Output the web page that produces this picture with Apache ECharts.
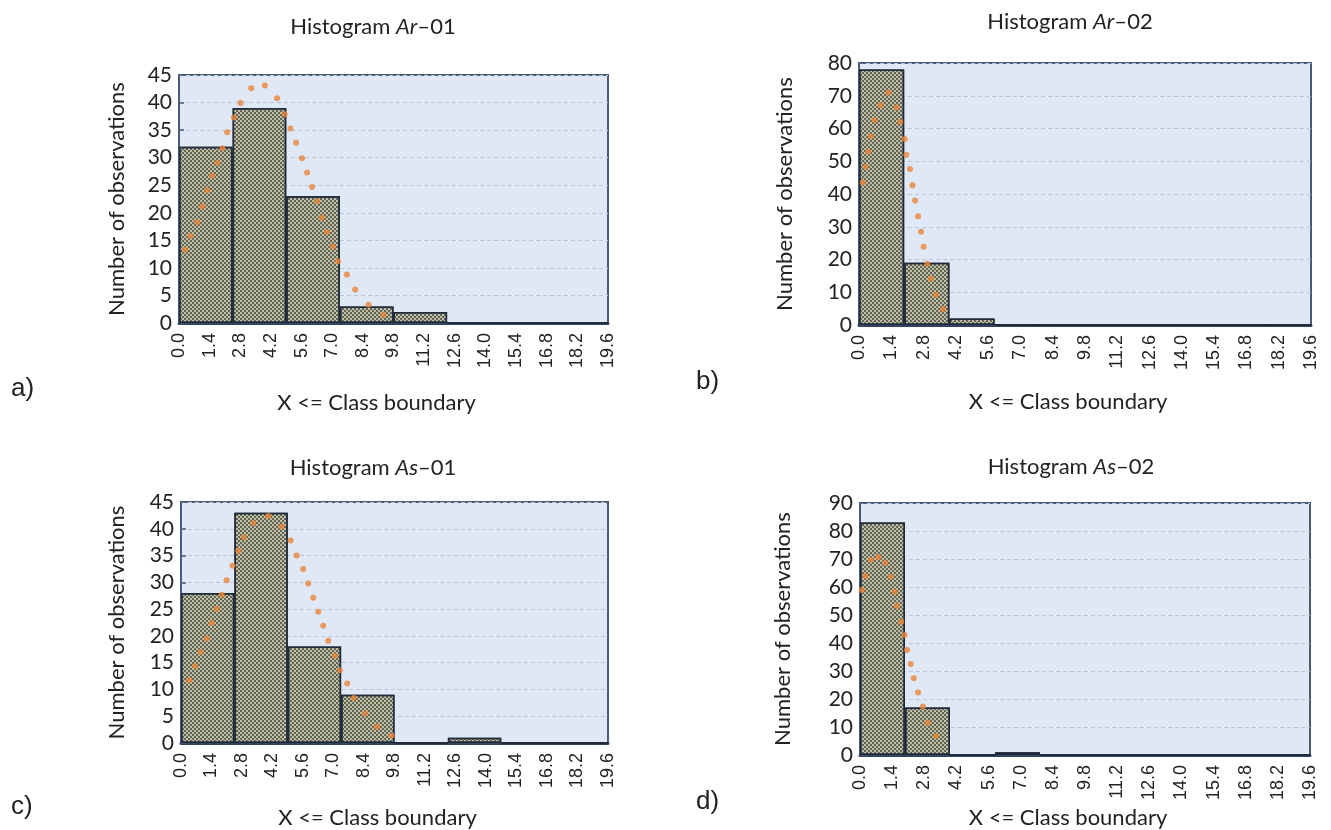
<!DOCTYPE html>
<html><head><meta charset="utf-8">
<script src="https://cdn.jsdelivr.net/npm/echarts@6/dist/echarts.min.js"></script>
<style>html,body{margin:0;padding:0;background:#fff}#c{width:1331px;height:830px}</style>
</head><body><div id="c"></div>
<script>
// ---- data ----
const xTickLabels = ['0.0','1.4','2.8','4.2','5.6','7.0','8.4','9.8','11.2','12.6','14.0','15.4','16.8','18.2','19.6'];
const edges8  = [0, 2.45, 4.9, 7.35, 9.8, 12.25, 14.7, 17.15, 19.6];
const edges10 = [0, 1.96, 3.92, 5.88, 7.84, 9.8, 11.76, 13.72, 15.68, 17.64, 19.6];
const countsA = [32, 39, 23, 3, 2, 0, 0, 0];
const countsB = [78, 19, 2, 0, 0, 0, 0, 0, 0, 0];
const countsC = [28, 43, 18, 9, 0, 1, 0, 0];
const countsD = [83, 17, 0, 1, 0, 0, 0, 0, 0, 0];
const curveA = [[0.27,13.3],[0.53,15.8],[0.84,18.3],[1.06,21.2],[1.29,24.1],[1.52,26.7],[1.75,29.1],[1.98,31.7],[2.20,34.6],[2.51,37.3],[2.81,39.9],[3.30,42.6],[3.92,43.1],[4.48,40.8],[4.83,37.9],[5.09,35.3],[5.35,32.7],[5.62,29.9],[5.85,27.3],[6.08,24.7],[6.31,22.1],[6.53,19.1],[6.76,16.5],[7.03,13.9],[7.26,11.2],[7.67,8.8],[8.05,6.1],[8.66,3.3],[9.34,1.5]];
const curveB = [[0.16,43.5],[0.29,48.3],[0.40,52.9],[0.51,57.6],[0.67,62.5],[0.93,67.1],[1.28,71.0],[1.63,66.4],[1.79,62.0],[1.98,56.8],[2.05,52.0],[2.21,47.6],[2.32,42.7],[2.43,38.0],[2.56,33.2],[2.69,28.5],[2.80,23.9],[2.96,18.7],[3.12,14.1],[3.33,9.2],[3.65,4.8]];
const curveC = [[0.38,11.7],[0.64,14.4],[0.90,17.0],[1.18,19.5],[1.41,22.4],[1.64,25.0],[1.87,27.7],[2.09,30.4],[2.37,33.1],[2.63,35.9],[2.89,38.4],[3.32,41.1],[4.01,42.4],[4.62,40.4],[5.03,37.8],[5.31,35.0],[5.61,32.5],[5.84,29.8],[6.07,27.1],[6.30,24.5],[6.53,21.9],[6.76,19.1],[7.06,16.3],[7.29,13.6],[7.63,11.1],[7.93,8.4],[8.44,5.5],[9.00,3.1],[9.66,1.4]];
const curveD = [[0.08,58.9],[0.24,63.9],[0.48,69.6],[0.80,70.6],[1.10,68.7],[1.34,63.7],[1.50,58.3],[1.61,53.2],[1.80,47.6],[1.94,42.9],[2.05,37.5],[2.21,32.5],[2.34,27.4],[2.53,22.3],[2.74,17.3],[2.95,11.5],[3.31,6.8]];
const titles = [['Ar','01'],['Ar','02'],['As','01'],['As','02']];
const yMax = [45, 80, 45, 90];
const yStep = [5, 10, 5, 10];
const panelTags = ['a)','b)','c)','d)'];

// ---- layout ----
const grids = [
  {left:179, top:75,  width:429, height:248},
  {left:859, top:63,  width:452, height:262},
  {left:181, top:502, width:427, height:243},
  {left:860, top:503, width:450, height:252}
];
const yNameGap = [51, 63, 53, 66];
const xNameGap = [69, 66, 64, 52];
const titlePos = [[368,11],[1065,6],[368,452],[1066,451]];
const tagPos = [[11,376],[696,369],[11,794],[696,789]];
const panels = [
  {edges: edges8,  counts: countsA, curve: curveA},
  {edges: edges10, counts: countsB, curve: curveB},
  {edges: edges8,  counts: countsC, curve: curveC},
  {edges: edges10, counts: countsD, curve: curveD}
];

const txt = 'Lato';
const chart = echarts.init(document.getElementById('c'), null, {renderer:'canvas'});
const option = {
  animation:false,
  backgroundColor:'#ffffff',
  title: titles.map((t,i)=>({
    text:'Histogram {i|'+t[0]+'}–'+t[1],
    left:titlePos[i][0], top:titlePos[i][1], textAlign:'center',
    textStyle:{fontFamily:txt, fontSize:22, fontWeight:'normal', color:'#222',
      rich:{i:{fontFamily:txt, fontSize:22, fontStyle:'italic', color:'#222'}}}
  })),
  grid: grids.map(g=>Object.assign({show:true, backgroundColor:'#e0e8f6', borderColor:'#4a5a78', borderWidth:2, containLabel:false}, g)),
  xAxis: [],
  yAxis: [],
  series: [],
  graphic: panelTags.map((t,i)=>({type:'text', left:tagPos[i][0], top:tagPos[i][1],
    style:{text:t, font:'26px "Liberation Sans"', fill:'#222'}}))
};
panels.forEach((p,i)=>{
  option.xAxis.push({
    type:'value', gridIndex:i, min:0, max:19.6, interval:1.4,
    name:'X <= Class boundary', nameLocation:'middle', nameGap:xNameGap[i],
    nameTextStyle:{fontFamily:txt, fontSize:22, color:'#222', padding:[0,34,0,0]},
    axisLine:{show:true, lineStyle:{color:'#34445f', width:3}},
    axisTick:{show:false}, splitLine:{show:false},
    axisLabel:{rotate:90, fontFamily:'Liberation Sans', fontSize:18, color:'#222', margin:10,
      formatter:(v)=>{const k=Math.round(v/1.4); return xTickLabels[k]!==undefined?xTickLabels[k]:'';}}
  });
  const cats = p.counts.map((_,k)=>p.edges[k].toFixed(2)+'–'+p.edges[k+1].toFixed(2));
  option.xAxis.push({type:'category', gridIndex:i, data:cats, show:false, boundaryGap:true});
  option.yAxis.push({
    type:'value', gridIndex:i, min:0, max:yMax[i], interval:yStep[i],
    name:'Number of observations', nameLocation:'middle', nameRotate:90, nameGap:yNameGap[i],
    nameTextStyle:{fontFamily:txt, fontSize:22, color:'#222'},
    axisLine:{show:false},
    axisTick:{show:true, inside:true, length:5, lineStyle:{color:'#4a5a78', width:1.5}},
    axisLabel:{fontFamily:txt, fontSize:21, color:'#222', margin:7},
    splitLine:{show:true, lineStyle:{color:'#b9c5da', type:[4,3], width:1}}
  });
  option.series.push({
    type:'bar', xAxisIndex:2*i+1, yAxisIndex:i, data:p.counts,
    barCategoryGap:'0%', barGap:'0%',
    itemStyle:{color:'#c3bf98', borderColor:'#1f2a3a', borderWidth:1.5,
      decal:{symbol:'rect', symbolSize:1, color:'rgba(60,70,80,0.75)', dashArrayX:[[2,2],[0,2,2,0]], dashArrayY:[2,0], rotation:0}},
    emphasis:{disabled:true}
  });
  option.series.push({
    type:'scatter', xAxisIndex:2*i, yAxisIndex:i, data:p.curve,
    symbol:'circle', symbolSize:6, itemStyle:{color:'#e9843a'}, z:5
  });
});
chart.setOption(option);
</script></body></html>
